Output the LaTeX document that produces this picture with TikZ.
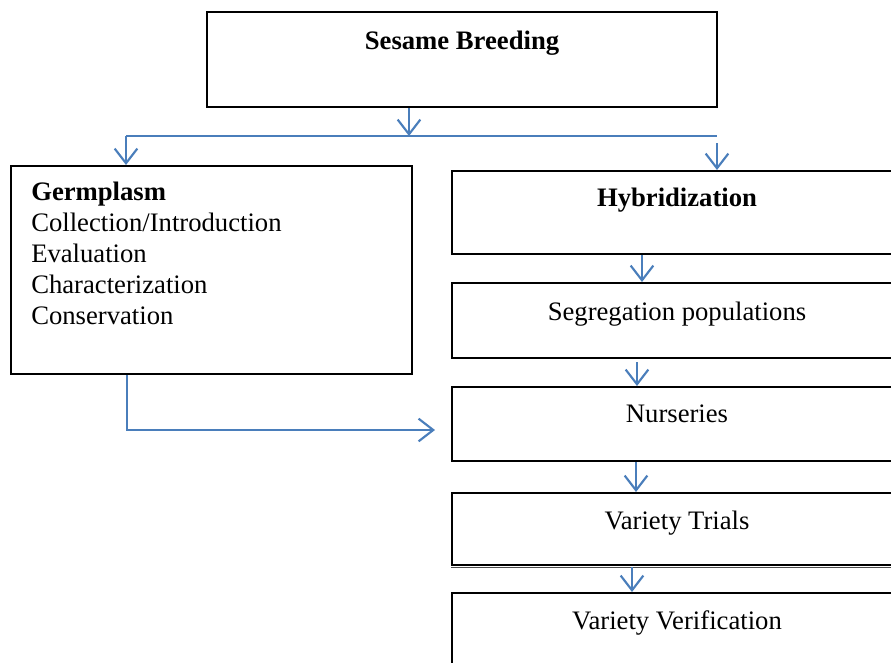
\documentclass[tikz,border=0pt]{standalone}
\usepackage{fontspec}
\setmainfont{Liberation Serif}
\usetikzlibrary{arrows.meta}
\definecolor{arrowblue}{RGB}{74,126,187}
\tikzset{
  box/.style={draw=black, line width=1.5pt, rectangle, inner sep=0pt, fill=white},
  lbl/.style={inner sep=0pt, font=\fontsize{20pt}{23pt}\selectfont},
  conn/.style={draw=arrowblue, line width=1.6pt},
  arr/.style={conn, -{Straight Barb[length=11pt,width=17pt,line width=1.6pt]}},
}
\begin{document}
\begin{tikzpicture}[x=0.75pt,y=-0.75pt]
\useasboundingbox (0,0) rectangle (891,662);
\clip (0,0) rectangle (891,662);
% boxes
\node[box, minimum width=510*0.75pt, minimum height=95*0.75pt] (top) at (462,59.5) {};
\node[box, minimum width=401*0.75pt, minimum height=208*0.75pt] (germ) at (211.5,270) {};
\node[box, minimum width=450*0.75pt, minimum height=83*0.75pt] (hyb) at (677,212.5) {};
\node[box, minimum width=450*0.75pt, minimum height=75*0.75pt] (seg) at (677,320.5) {};
\node[box, minimum width=450*0.75pt, minimum height=74*0.75pt] (nur) at (677,424) {};
\node[box, minimum width=450*0.75pt, minimum height=72*0.75pt] (vt) at (677,529) {};
\draw[black!70, line width=0.8pt] (vt.south west) ++(0,1.3) coordinate (vtl) -- (vtl -| vt.east);
\node[box, minimum width=450*0.75pt, minimum height=120*0.75pt] (vv) at (677,653) {};
% labels
\node[lbl, anchor=base] (tTop) at (462,49.5) {\textbf{Sesame Breeding}};
\node[lbl, anchor=base west] (g1) at (31,200.5) {\textbf{Germplasm}};
\node[lbl, anchor=base west] (g2) at (31,231.5) {Collection/Introduction};
\node[lbl, anchor=base west] (g3) at (31,262.5) {Evaluation};
\node[lbl, anchor=base west] (g4) at (31,293.5) {Characterization};
\node[lbl, anchor=base west] (g5) at (31,324.5) {Conservation};
\node[lbl, anchor=base] (tHyb) at (677,206.5) {\textbf{Hybridization}};
\node[lbl, anchor=base] (tSeg) at (677,320.5) {Segregation populations};
\node[lbl, anchor=base] (tNur) at (677,422.5) {Nurseries};
\node[lbl, anchor=base] (tVt) at (677,529.5) {Variety Trials};
\node[lbl, anchor=base] (tVv) at (677,629.5) {Variety Verification};
% connectors
\coordinate (jmid) at (409,136);
\coordinate (jl) at (126,136);
\coordinate (jr) at (717,136);
\coordinate (jr2) at (717,143);
\draw[arr] (top.south -| jmid) -- (jmid);
\draw[conn] (jl) -- (jr);
\draw[arr] (jl) -- (jl |- germ.north);
\draw[arr] (jr2) -- (jr2 |- hyb.north);
\coordinate (a1) at (642,254);
\draw[arr] (a1 |- hyb.south) -- (a1 |- seg.north);
\coordinate (a2) at (637,362);
\draw[arr] (a2) -- (a2 |- nur.north);
\coordinate (a3) at (636,462);
\draw[arr] (a3) -- (a3 |- vt.north);
\coordinate (a4) at (632,567);
\draw[arr] (a4) -- (a4 |- vv.north);
\coordinate (gb) at (127,430);
\coordinate (gend) at (435,430);
\draw[arr] (gb |- germ.south) -- (gb) -- (gend);
\end{tikzpicture}
\end{document}
